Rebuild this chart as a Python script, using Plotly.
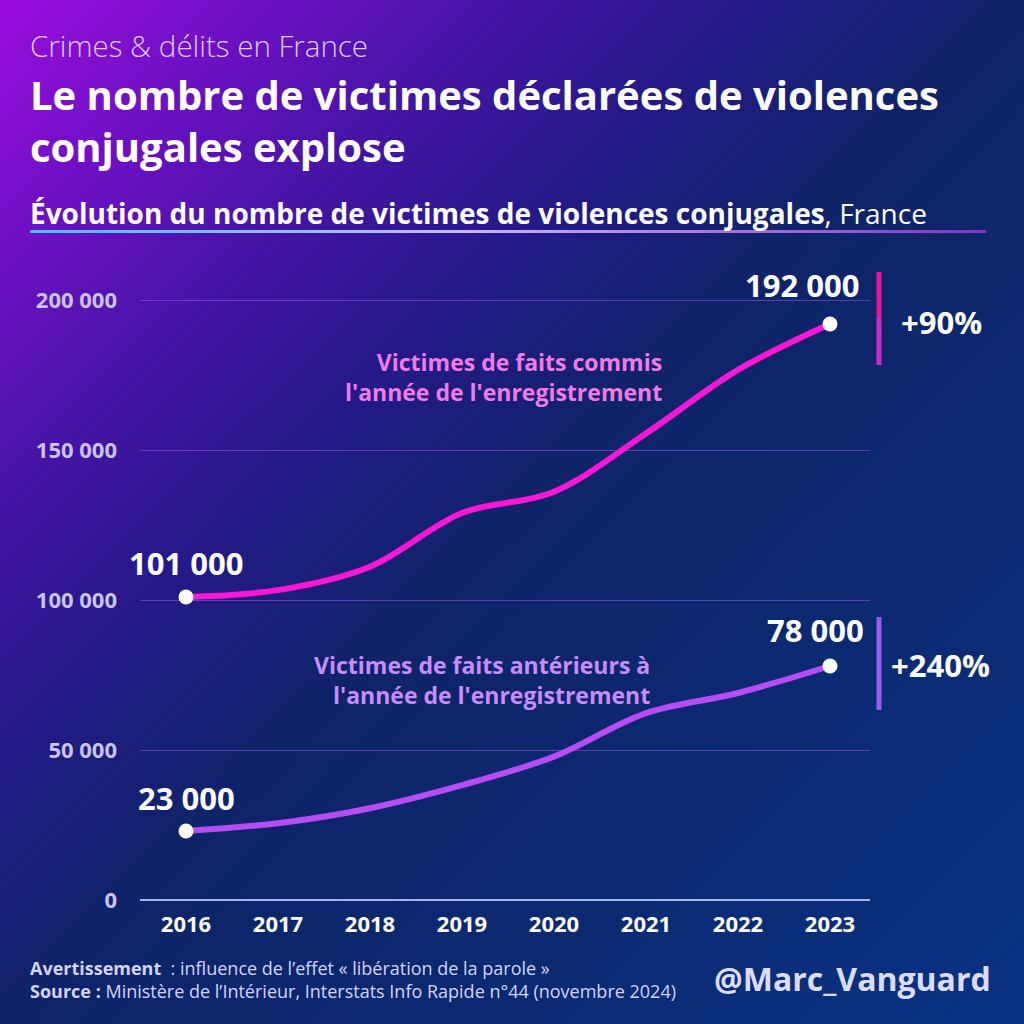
import base64
import plotly.graph_objects as go

# ---------------- data ----------------
years = [2016, 2017, 2018, 2019, 2020, 2021, 2022, 2023]
faits_annee = [101000, 103300, 111100, 129000, 136100, 155500, 176700, 192000]
faits_anterieurs = [23000, 25600, 30600, 38300, 47800, 62300, 69000, 78000]
y_tick_vals = [0, 50000, 100000, 150000, 200000]
y_tick_labels = ["0", "50 000", "100 000", "150 000", "200 000"]
x_tick_labels = ["2016", "2017", "2018", "2019", "2020", "2021", "2022", "2023"]
label_annee = "Victimes de faits commis<br>l'année de l'enregistrement"
label_anterieurs = "Victimes de faits antérieurs à<br>l'année de l'enregistrement"
title_text = "Le nombre de victimes déclarées de violences<br>conjugales explose"

FONT = "Open Sans"
PINK = "#f817d4"
VIOLET = "#b64cf6"

# plot area in pixels
L, R, T, B = 140, 870, 260, 900
W_PX, H_PX = R - L, B - T


def px_x(x):
    return (x - L) / W_PX


def px_y(y):
    return (B - y) / H_PX


def fmt(v):
    return f"{v:,}".replace(",", " ")


def pct(a, b):
    return f"+{round((b / a - 1) * 100, -1):.0f}%"


# ---------------- background (svg gradient) ----------------
svg = """<svg xmlns="http://www.w3.org/2000/svg" width="1024" height="1024" viewBox="0 0 1024 1024">
<defs>
<linearGradient id="bg" x1="0" y1="0" x2="1" y2="1">
<stop offset="0" stop-color="#9a0cdc"/>
<stop offset="0.12" stop-color="#7010c6"/>
<stop offset="0.24" stop-color="#4614a6"/>
<stop offset="0.36" stop-color="#25198a"/>
<stop offset="0.5" stop-color="#0f2368"/>
<stop offset="0.75" stop-color="#0b2a72"/>
<stop offset="1" stop-color="#0a3284"/>
</linearGradient>
<linearGradient id="ul" x1="0" y1="0" x2="1" y2="0">
<stop offset="0" stop-color="#38c8f0"/>
<stop offset="0.45" stop-color="#c8b8f0"/>
<stop offset="1" stop-color="#8a30c8"/>
</linearGradient>
</defs>
<rect width="1024" height="1024" fill="url(#bg)"/>
<rect x="30" y="230" width="956" height="3" fill="url(#ul)"/>
</svg>"""
bg_src = "data:image/svg+xml;base64," + base64.b64encode(svg.encode()).decode()

fig = go.Figure()

fig.add_trace(go.Scatter(x=years, y=faits_annee, mode="lines",
                         line=dict(color=PINK, width=6, shape="spline", smoothing=1.0),
                         hoverinfo="skip"))
fig.add_trace(go.Scatter(x=years, y=faits_anterieurs, mode="lines",
                         line=dict(color=VIOLET, width=6, shape="spline", smoothing=1.0),
                         hoverinfo="skip"))
fig.add_trace(go.Scatter(x=[years[0], years[-1], years[0], years[-1]],
                         y=[faits_annee[0], faits_annee[-1], faits_anterieurs[0], faits_anterieurs[-1]],
                         mode="markers", marker=dict(color="white", size=15),
                         cliponaxis=False, hoverinfo="skip"))

ann = []
# value labels
val_font = dict(family=FONT, size=31, color="white", weight="bold")
ann.append(dict(x=years[0], y=faits_annee[0], text=fmt(faits_annee[0]), showarrow=False,
                xref="x", yref="y", yshift=34, font=val_font))
ann.append(dict(x=years[-1], y=faits_annee[-1], text=fmt(faits_annee[-1]), showarrow=False,
                xref="x", yref="y", yshift=39, xshift=-28, font=val_font))
ann.append(dict(x=years[0], y=faits_anterieurs[0], text=fmt(faits_anterieurs[0]), showarrow=False,
                xref="x", yref="y", yshift=33, font=val_font))
ann.append(dict(x=years[-1], y=faits_anterieurs[-1], text=fmt(faits_anterieurs[-1]), showarrow=False,
                xref="x", yref="y", yshift=36, xshift=-15, font=val_font))

# percentage labels
ann.append(dict(x=px_x(899), y=px_y(322), xref="paper", yref="paper", xanchor="left", yanchor="middle",
                text=pct(faits_annee[0], faits_annee[-1]), showarrow=False,
                font=dict(family=FONT, size=31, color="white", weight="bold")))
ann.append(dict(x=px_x(889), y=px_y(665), xref="paper", yref="paper", xanchor="left", yanchor="middle",
                text=pct(faits_anterieurs[0], faits_anterieurs[-1]), showarrow=False,
                font=dict(family=FONT, size=31, color="white", weight="bold")))

# series labels
ann.append(dict(x=px_x(664), y=px_y(377), xref="paper", yref="paper", xanchor="right", yanchor="middle",
                align="right", text=label_annee, showarrow=False,
                font=dict(family=FONT, size=23, color="#f27ae8", weight="bold")))
ann.append(dict(x=px_x(652), y=px_y(680), xref="paper", yref="paper", xanchor="right", yanchor="middle",
                align="right", text=label_anterieurs, showarrow=False,
                font=dict(family=FONT, size=23, color="#c88cff", weight="bold")))

# titles
ann.append(dict(x=px_x(28), y=px_y(45), xref="paper", yref="paper", xanchor="left", yanchor="middle",
                text="Crimes & délits en France", showarrow=False,
                font=dict(family=FONT, size=29.5, color="#dccbf4", weight=300)))
ann.append(dict(x=px_x(28), y=px_y(120), xref="paper", yref="paper", xanchor="left", yanchor="middle",
                align="left", text=title_text, showarrow=False,
                font=dict(family=FONT, size=40, color="white", weight="bold")))
ann.append(dict(x=px_x(28), y=px_y(213), xref="paper", yref="paper", xanchor="left", yanchor="middle",
                text="<b>Évolution du nombre de victimes de violences conjugales</b>, France", showarrow=False,
                font=dict(family=FONT, size=28, color="white")))

# footer
ann.append(dict(x=px_x(28), y=px_y(979), xref="paper", yref="paper", xanchor="left", yanchor="middle",
                align="left",
                text="<b>Avertissement</b>  : influence de l’effet « libération de la parole »<br>"
                     "<b>Source :</b> Ministère de l’Intérieur, Interstats Info Rapide n°44 (novembre 2024)",
                showarrow=False, font=dict(family=FONT, size=18, color="#d2d4f8")))
ann.append(dict(x=px_x(993), y=px_y(978), xref="paper", yref="paper", xanchor="right", yanchor="middle",
                text="@Marc_Vanguard", showarrow=False,
                font=dict(family=FONT, size=32, color="#dcdcff", weight="bold")))

# vertical bars
shapes = [
    dict(type="line", xref="paper", yref="paper", x0=px_x(879), x1=px_x(879), y0=px_y(272), y1=px_y(318),
         line=dict(color="#e8149e", width=5)),
    dict(type="line", xref="paper", yref="paper", x0=px_x(879), x1=px_x(879), y0=px_y(318), y1=px_y(365),
         line=dict(color="#cc2cc8", width=5)),
    dict(type="line", xref="paper", yref="paper", x0=px_x(879), x1=px_x(879), y0=px_y(617), y1=px_y(710),
         line=dict(color="#9a5cf2", width=5)),
]

fig.update_layout(
    width=1024, height=1024,
    margin=dict(l=L, r=1024 - R, t=T, b=1024 - B),
    paper_bgcolor="#0f2368", plot_bgcolor="rgba(0,0,0,0)",
    showlegend=False,
    images=[dict(source=bg_src, xref="paper", yref="paper", x=-L / W_PX, y=1 + T / H_PX,
                 sizex=1024 / W_PX, sizey=1024 / H_PX, sizing="stretch",
                 xanchor="left", yanchor="top", layer="below")],
    annotations=ann,
    shapes=shapes,
    xaxis=dict(range=[2015.5, 2015.5 + W_PX / 92], tickvals=years, ticktext=x_tick_labels,
               showgrid=False, zeroline=False, showline=False, ticks="",
               ticklabelstandoff=9,
               tickfont=dict(family=FONT, size=22, color="white", weight="bold")),
    yaxis=dict(range=[0, H_PX / 3 * 1000], tickvals=y_tick_vals, ticktext=y_tick_labels,
               showgrid=True, gridcolor="rgba(150,90,225,0.55)", gridwidth=1,
               zeroline=True, zerolinecolor="#a4b2ea", zerolinewidth=2,
               showline=False, ticks="", ticklabelstandoff=22,
               tickfont=dict(family=FONT, size=22, color="#c9c4f4", weight="bold")),
)

fig.write_html("out.html")
